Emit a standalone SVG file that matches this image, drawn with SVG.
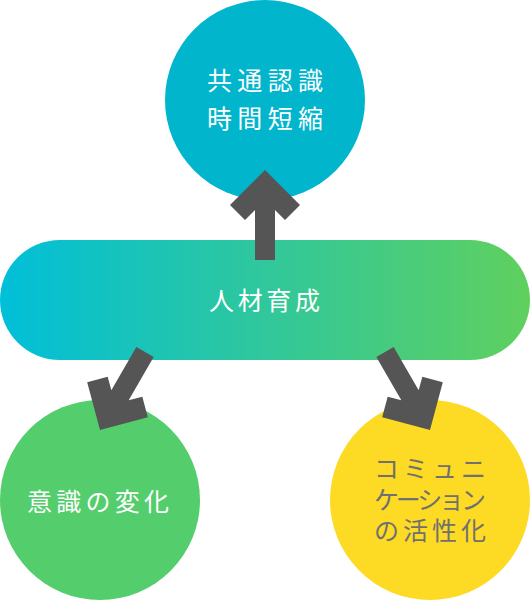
<svg xmlns="http://www.w3.org/2000/svg" width="530" height="600" viewBox="0 0 530 600">
  <defs>
    <linearGradient id="pillGrad" x1="0" y1="0" x2="1" y2="0">
      <stop offset="0" stop-color="#00BFD9"/>
      <stop offset="1" stop-color="#60D05E"/>
    </linearGradient>
    <path id="arrow" d="M0,-90 L35,-55 L20,-40 L10,-50 L10,0 L-10,0 L-10,-50 L-20,-40 L-35,-55 Z"/>
  </defs>
  <style>
    .lbl { font-family: "Noto Sans CJK JP", "Noto Sans", sans-serif; font-size: 25px; fill: #ffffff; }
    .dark { fill: #707070; }
    .arr { fill: #555555; }
  </style>
  <g id="node-top">
    <circle cx="265" cy="100" r="100" fill="#00B5CC"/>
    <text class="lbl" x="207" y="90" textLength="116" lengthAdjust="spacing">共通認識</text>
    <text class="lbl" x="207" y="128" textLength="116" lengthAdjust="spacing">時間短縮</text>
  </g>
  <g id="node-center">
    <rect x="0" y="240" width="530" height="120" rx="60" ry="60" fill="url(#pillGrad)"/>
    <text class="lbl" x="209" y="310" textLength="111" lengthAdjust="spacing">人材育成</text>
  </g>
  <g id="node-left">
    <circle cx="100" cy="500" r="100" fill="#54CD6C"/>
    <text class="lbl" x="27" y="511" textLength="142" lengthAdjust="spacing">意識の変化</text>
  </g>
  <g id="node-right">
    <circle cx="430" cy="500" r="100" fill="#FDDA24"/>
    <text class="lbl dark"><tspan x="374" y="478" textLength="112" lengthAdjust="spacing">コミュニ</tspan><tspan x="374" y="509" textLength="112" lengthAdjust="spacing">ケーション</tspan><tspan x="374" y="540" textLength="112" lengthAdjust="spacing">の活性化</tspan></text>
  </g>
  <g id="connectors">
    <use href="#arrow" class="arr" transform="translate(265,260)"/>
    <use href="#arrow" class="arr" transform="translate(145,352) rotate(-150)"/>
    <use href="#arrow" class="arr" transform="translate(385,352) rotate(150)"/>
  </g>
</svg>
